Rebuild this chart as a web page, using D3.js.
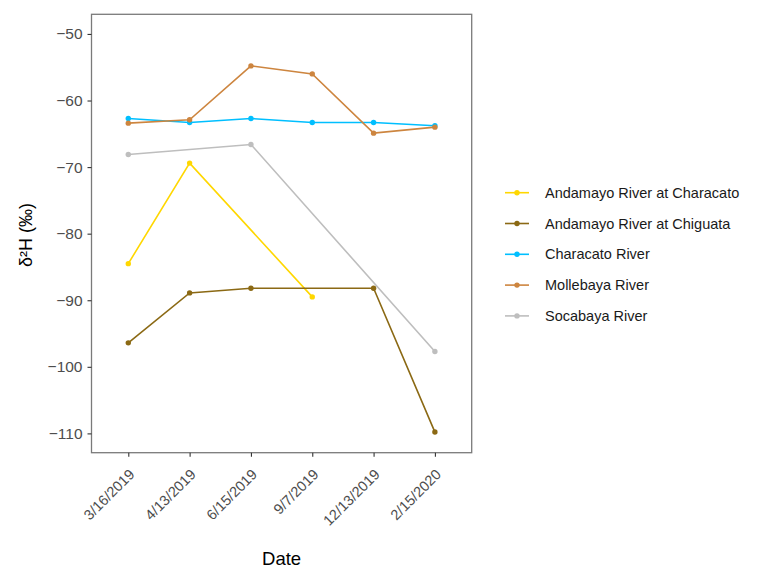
<!DOCTYPE html>
<html>
<head>
<meta charset="utf-8">
<script src="https://cdn.jsdelivr.net/npm/d3@7"></script>
<style>
  body { margin: 0; background: #fff; }
  svg { font-family: "Liberation Sans", Arial, sans-serif; }
</style>
</head>
<body>
<div id="canvas"></div>
<script>
// sample dates (discrete axis)
var dates = ["3/16/2019", "4/13/2019", "6/15/2019", "9/7/2019", "12/13/2019", "2/15/2020"]
var yTicks = [-50, -60, -70, -80, -90, -100, -110]

// one array per river, null where no sample
var andamayoCharacato = [-84.5, -69.4, null, -89.5, null, null]
var andamayoChiguata = [-96.4, -88.9, -88.2, null, -88.2, -109.8]
var characatoRiver = [-62.7, -63.3, -62.7, -63.3, -63.3, -63.8]
var mollebayaRiver = [-63.4, -62.9, -54.8, -56.0, -64.9, -64.0]
var socabayaRiver = [-68.1, null, -66.6, null, null, -97.7]

var seriesNames = ["Andamayo River at Characato", "Andamayo River at Chiguata", "Characato River", "Mollebaya River", "Socabaya River"]
var seriesValues = [andamayoCharacato, andamayoChiguata, characatoRiver, mollebayaRiver, socabayaRiver]
var colors = ["#FFD700", "#8B6914", "#00BFFF", "#CD853F", "#BEBEBE"]

var width = 761
var height = 568
var panelLeft = 91.5, panelRight = 471.7, panelTop = 14.3, panelBottom = 452.7

var svg = d3.select("#canvas")
    .append("svg")
    .attr("width", width)
    .attr("height", height)

var xScale = d3.scalePoint().domain(dates).range([panelLeft, panelRight]).padding(0.6)
var yScale = d3.scaleLinear().domain([-112.9, -47.05]).range([panelBottom, panelTop])

// panel border
svg.append("rect")
    .attr("x", panelLeft).attr("y", panelTop)
    .attr("width", panelRight - panelLeft).attr("height", panelBottom - panelTop)
    .attr("fill", "none")
    .attr("stroke", "#7a7a7a")
    .attr("stroke-width", 1.3)

var yAxis = svg.append("g")
    .attr("transform", `translate(${panelLeft},0)`)
    .call(d3.axisLeft(yScale).tickValues(yTicks).tickSize(4).tickPadding(5)
        .tickFormat(function (d) { return "\u2212" + Math.abs(d) }))
yAxis.select(".domain").remove()
yAxis.selectAll("line").attr("stroke", "#333").attr("stroke-width", 1.1)
yAxis.selectAll("text").attr("fill", "#4d4d4d").style("font-size", "15.5px")

var xAxis = svg.append("g")
    .attr("transform", `translate(0,${panelBottom})`)
    .call(d3.axisBottom(xScale).tickSize(4).tickPadding(4))
xAxis.select(".domain").remove()
xAxis.selectAll("line").attr("stroke", "#333").attr("stroke-width", 1.1)
xAxis.selectAll("text")
    .attr("fill", "#4d4d4d")
    .style("font-size", "14.5px")
    .attr("text-anchor", "end")
    .attr("y", 0)
    .attr("dy", "0.35em")
    .attr("transform", "translate(3,19) rotate(-45)")

// lines and points
var line = d3.line()
    .x(function (d) { return xScale(d.date) })
    .y(function (d) { return yScale(d.v) })

seriesValues.forEach(function (vals, i) {
    var pts = dates.map(function (d, j) { return { date: d, v: vals[j] } })
        .filter(function (d) { return d.v !== null })
    svg.append("path")
        .datum(pts)
        .attr("fill", "none")
        .attr("stroke", colors[i])
        .attr("stroke-width", 1.6)
        .attr("d", line)
    svg.selectAll(".pt" + i)
        .data(pts)
        .enter()
        .append("circle")
        .attr("cx", function (d) { return xScale(d.date) })
        .attr("cy", function (d) { return yScale(d.v) })
        .attr("r", 2.7)
        .attr("fill", colors[i])
})

// axis titles
svg.append("text")
    .attr("x", (panelLeft + panelRight) / 2)
    .attr("y", 565)
    .attr("text-anchor", "middle")
    .style("font-size", "18.5px")
    .attr("fill", "#000")
    .text("Date")

svg.append("text")
    .attr("transform", "translate(32,235) rotate(-90)")
    .attr("text-anchor", "middle")
    .style("font-size", "18px")
    .attr("fill", "#000")
    .text("\u03B4\u00B2H (\u2030)")

// legend
var legend = svg.append("g")
seriesNames.forEach(function (name, i) {
    var y = 192.7 + i * 30.8
    legend.append("line")
        .attr("x1", 505).attr("x2", 529)
        .attr("y1", y).attr("y2", y)
        .attr("stroke", colors[i])
        .attr("stroke-width", 1.6)
    legend.append("circle")
        .attr("cx", 517).attr("cy", y).attr("r", 2.7)
        .attr("fill", colors[i])
    legend.append("text")
        .attr("x", 545).attr("y", y)
        .attr("dy", "0.35em")
        .style("font-size", "14.5px")
        .attr("fill", "#1a1a1a")
        .text(name)
})
</script>
</body>
</html>
